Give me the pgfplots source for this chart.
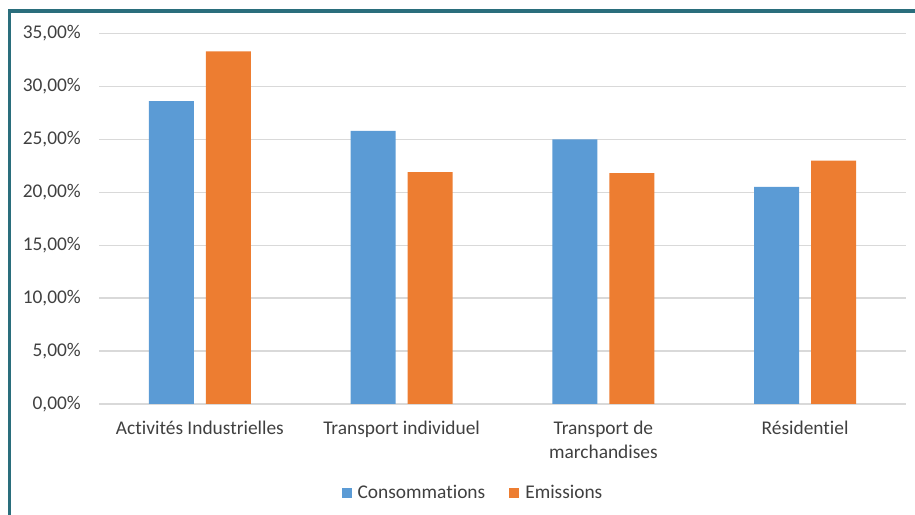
\documentclass[border=0pt]{standalone}
\usepackage{fontspec}
\setmainfont{Carlito}[Ligatures=NoCommon]
\usepackage{pgfplots}
\pgfplotsset{compat=1.18}

\definecolor{conso}{HTML}{5B9BD5}
\definecolor{emis}{HTML}{ED7D31}
\definecolor{gridgray}{HTML}{D9D9D9}
\definecolor{txtgray}{HTML}{404040}
\definecolor{frameteal}{RGB}{42,110,124}
\newcommand\chartfont{\fontsize{19.4bp}{23.6bp}\selectfont}

\begin{document}
\begin{tikzpicture}
\begin{axis}[
  at={(99bp,111bp)}, anchor=south west,
  scale only axis,
  width=807bp, height=370.5bp,
  ybar=12bp, bar width=45bp,
  xmin=-0.5, xmax=3.5,
  ymin=0, ymax=35,
  xtick={0,1,2,3},
  xticklabels={Activités Industrielles, Transport individuel, Transport de\\marchandises, Résidentiel},
  ytick={0,5,...,35},
  yticklabel={\pgfmathprintnumber[fixed, fixed zerofill, precision=2, use comma]{\tick}\%},
  /pgf/number format/assume math mode=true,
  ymajorgrids, xmajorgrids=false,
  major grid style={gridgray, line width=1.3bp},
  axis line style={draw=none},
  major tick length=0pt,
  tick label style={font=\chartfont, text=txtgray, inner sep=0pt},
  yticklabel style={anchor=east, xshift=-18bp},
  xticklabel style={anchor=north, align=center, yshift=-17bp},
  legend columns=2,
  legend style={at={(0.4622,-0.2402)}, anchor=center, draw=none, fill=none,
    font=\chartfont, text=txtgray,
    nodes={inner sep=0pt},
    /tikz/every odd column/.append style={column sep=6bp},
    /tikz/every even column/.append style={column sep=24bp}},
  legend image code/.code={\fill[#1] (0bp,-5bp) rectangle (10bp,5bp);},
]
\addplot[fill=conso, draw=none] coordinates {(0,28.6) (1,25.8) (2,25.0) (3,20.5)};
\addplot[fill=emis, draw=none] coordinates {(0,33.3) (1,21.9) (2,21.8) (3,23.0)};
\legend{Consommations, Emissions}
\end{axis}
\draw[frameteal, line width=3.4bp] (9.2bp,-20bp) -- (9.2bp,504bp) -- (940bp,504bp);
\pgfresetboundingbox
\path[use as bounding box] (0,0) rectangle (915bp,515bp);
\end{tikzpicture}
\end{document}
